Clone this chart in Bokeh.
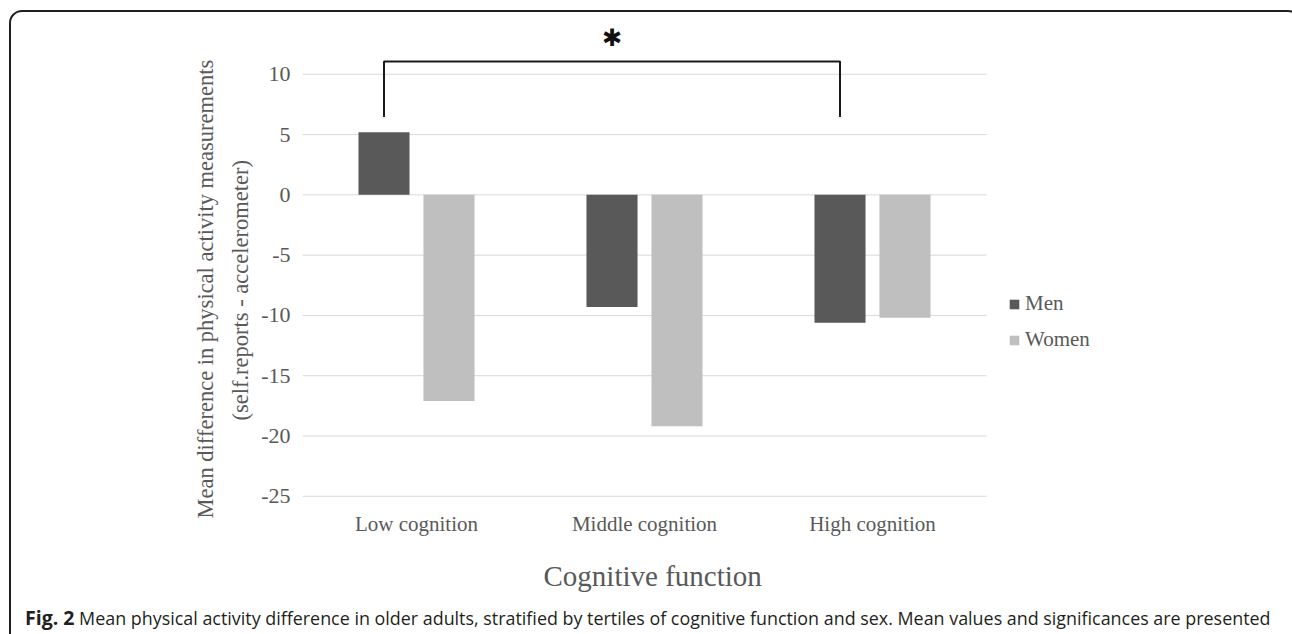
from bokeh.plotting import figure
from bokeh.layouts import column
from bokeh.models import (FactorRange, Range1d, FixedTicker, Title, Legend, LegendItem,
                          ColumnDataSource, Div, InlineStyleSheet)
from bokeh.transform import dodge
from bokeh.core.properties import value
from bokeh.embed import file_html
from bokeh.resources import INLINE

# ---- data ----
categories = ["Low cognition", "Middle cognition", "High cognition"]
men = [5.2, -9.3, -10.6]
women = [-17.1, -19.2, -10.2]
series_names = ["Men", "Women"]
y_ticks = [-25, -20, -15, -10, -5, 0, 5, 10]
sig_pair = ["Low cognition", "High cognition"]   # significant difference (men)
y_title = ["Mean difference in physical activity measurements",
           "(self.reports - accelerometer)"]
x_title = "Cognitive function"
caption_bold = "Fig. 2"
caption_text = ("Mean physical activity difference in older adults, stratified by tertiles of "
                "cognitive function and sex. Mean values and significances are presented")

# ---- layout constants ----
SPACER = " "          # empty slot on the right of the bars that holds the legend
W, H = 1292, 611
FL, FR, FT, FB = 302, 78, 20, 112
SERIF = "Liberation Serif"
TXT = "#595959"
MEN_C, WOMEN_C = "#595959", "#bfbfbf"
OFF, BW = 0.1425, 0.224

p = figure(width=W, height=H,
           x_range=FactorRange(factors=categories + [SPACER], range_padding=0),
           y_range=Range1d(-25.1, 14.46), output_backend="svg", toolbar_location=None,
           min_border_left=FL, min_border_right=FR, min_border_top=FT, min_border_bottom=FB)
p.outline_line_color = None
p.background_fill_color = None
p.border_fill_color = None

# horizontal gridlines spanning only the category area
gsrc = ColumnDataSource(dict(y=y_ticks, a=[categories[0]] * len(y_ticks),
                             b=[categories[-1]] * len(y_ticks)))
p.segment(x0=dodge("a", -0.5, range=p.x_range), y0="y",
          x1=dodge("b", 0.5, range=p.x_range), y1="y", source=gsrc,
          line_color="#d9d9d9", line_width=1)

src = ColumnDataSource(dict(cat=categories, men=men, women=women))
r_men = p.vbar(x=dodge("cat", -OFF, range=p.x_range), top="men", bottom=0, width=BW,
               source=src, fill_color=MEN_C, line_color=None)
r_women = p.vbar(x=dodge("cat", OFF, range=p.x_range), top="women", bottom=0, width=BW,
                 source=src, fill_color=WOMEN_C, line_color=None)

# significance bracket between the men's bars
bsrc = ColumnDataSource(dict(x=[sig_pair[0], sig_pair[0], sig_pair[1], sig_pair[1]],
                             y=[6.45, 11.07, 11.07, 6.45]))
p.line(x=dodge("x", -OFF, range=p.x_range), y="y", source=bsrc, line_color="#1a1a1a",
       line_width=2)
ssrc = ColumnDataSource(dict(x=[categories[1]], y=[13.0], t=["\u2731"]))
p.text(x=dodge("x", -OFF, range=p.x_range), y="y", text="t", source=ssrc,
       text_font=value("DejaVu Sans"), text_font_size="24px", text_color="#111111",
       text_align="center", text_baseline="middle")

# axes
p.yaxis.ticker = FixedTicker(ticks=y_ticks)
p.yaxis.major_label_overrides = {t: str(t) for t in y_ticks}
p.ygrid.grid_line_color = None
p.xgrid.grid_line_color = None
for ax in (p.xaxis[0], p.yaxis[0]):
    ax.axis_line_color = None
    ax.major_tick_line_color = None
    ax.minor_tick_line_color = None
    ax.major_tick_out = 0
    ax.major_tick_in = 0
    ax.minor_tick_out = 0
    ax.major_label_text_font = SERIF
    ax.major_label_text_color = TXT
p.yaxis.major_label_text_font_size = "22px"
p.xaxis.major_label_text_font_size = "21px"
p.yaxis.major_label_standoff = 12
p.xaxis.major_label_standoff = 14

# y-axis title: two lines (closest to the axis first)
p.add_layout(Title(text=y_title[1], align="left", offset=77, standoff=12,
                   text_font=SERIF, text_font_size="22.5px", text_color=TXT,
                   text_font_style="normal"), "left")
p.add_layout(Title(text=y_title[0], align="left", offset=-21, standoff=3,
                   text_font=SERIF, text_font_size="22.5px", text_color=TXT,
                   text_font_style="normal"), "left")
# x-axis title
p.add_layout(Title(text=x_title, align="left", offset=241, standoff=39,
                   text_font=SERIF, text_font_size="29px", text_color=TXT,
                   text_font_style="normal"), "below")

# legend (inside the spacer slot to the right of the bars)
legend = Legend(items=[LegendItem(label=series_names[0], renderers=[r_men]),
                       LegendItem(label=series_names[1], renderers=[r_women])],
                location=(706, 145), orientation="vertical")
legend.border_line_color = None
legend.background_fill_alpha = 0
legend.padding = 0
legend.margin = 0
legend.glyph_width = 12
legend.glyph_height = 12
legend.label_standoff = 5
legend.spacing = 11
legend.label_text_font = SERIF
legend.label_text_font_size = "21px"
legend.label_text_color = TXT
p.add_layout(legend, "center")

cap = Div(text=(f"<b style='font-size:19.5px'>{caption_bold}</b> {caption_text}"),
          width=W, height=23,
          styles={"font-family": "'Open Sans'", "font-size": "17.9px", "color": "#231f20",
                  "padding-left": "20px", "line-height": "4px", "white-space": "nowrap",
                  "overflow": "visible"})

frame_css = InlineStyleSheet(css="""
:host { position: relative; }
:host::before {
  content: ""; position: absolute; left: 9px; top: 10px; right: 1px; bottom: -30px;
  border: 2px solid #231f20; border-radius: 13px; pointer-events: none; z-index: 5;
}
""")
root = column(p, cap, spacing=0, stylesheets=[frame_css])

open("out.html", "w").write(file_html(root, INLINE))
